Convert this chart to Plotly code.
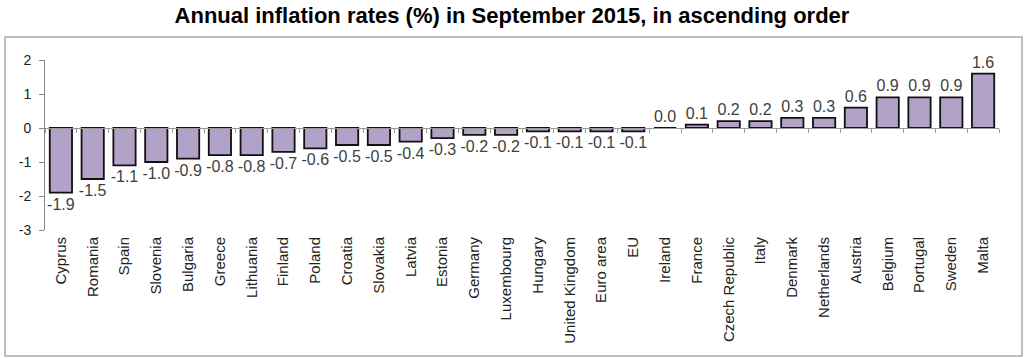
import plotly.graph_objects as go

countries = ["Cyprus", "Romania", "Spain", "Slovenia", "Bulgaria", "Greece", "Lithuania",
             "Finland", "Poland", "Croatia", "Slovakia", "Latvia", "Estonia", "Germany",
             "Luxembourg", "Hungary", "United Kingdom", "Euro area", "EU", "Ireland",
             "France", "Czech Republic", "Italy", "Denmark", "Netherlands", "Austria",
             "Belgium", "Portugal", "Sweden", "Malta"]
rates = [-1.9, -1.5, -1.1, -1.0, -0.9, -0.8, -0.8, -0.7, -0.6, -0.5, -0.5, -0.4, -0.3, -0.2,
         -0.2, -0.1, -0.1, -0.1, -0.1, 0.0, 0.1, 0.2, 0.2, 0.3, 0.3, 0.6, 0.9, 0.9, 0.9, 1.6]
y_ticks = [2, 1, 0, -1, -2, -3]
y_tick_labels = ["2", "1", "0", "-1", "-2", "-3"]

title = "Annual inflation rates (%) in September 2015, in ascending order"

y_min, y_max = -3, 2

fig = go.Figure()
fig.add_trace(go.Bar(
    x=countries, y=rates,
    marker=dict(color="#B3A2C7", line=dict(color="#111111", width=1.8)),
    text=[f"{v:.1f}" for v in rates],
    textposition="outside",
    constraintext="none",
    textfont=dict(family="Liberation Sans, Arial", size=16, color="#404040"),
    cliponaxis=False,
    xaxis="x", yaxis="y",
))
# empty trace to carry the zero-line category axis
fig.add_trace(go.Bar(x=countries, y=[None]*len(countries), xaxis="x2", yaxis="y",
                     showlegend=False, hoverinfo="skip"))

fig.update_layout(
    width=1024, height=358,
    margin=dict(l=45, r=25, t=60, b=128, autoexpand=False),
    paper_bgcolor="white", plot_bgcolor="white",
    showlegend=False,
    bargap=0.30,
    title=dict(text="<b>" + title + "</b>", x=0.5, xanchor="center", y=0.958, yanchor="middle",
               font=dict(family="Liberation Sans, Arial", size=22, color="black")),
    xaxis=dict(showline=False, ticks="", tickangle=-90, showgrid=False, automargin=False,
               tickfont=dict(family="Liberation Sans, Arial", size=15, color="#222"),
               anchor="y", ticklen=0, ticklabelstandoff=3),
    xaxis2=dict(matches="x", overlaying="x", anchor="free", automargin=False,
                position=(0 - y_min) / (y_max - y_min),
                showline=True, linecolor="#999", linewidth=1,
                ticks="outside", tickson="boundaries", ticklen=4, tickcolor="#999",
                showticklabels=False, showgrid=False),
    yaxis=dict(range=[y_min, y_max], tickvals=y_ticks, ticktext=y_tick_labels,
               showgrid=False, zeroline=False, automargin=False,
               showline=True, linecolor="#888", linewidth=1, ticks="outside", ticklen=5,
               tickcolor="#888", ticklabelstandoff=5,
               tickfont=dict(family="Liberation Sans, Arial", size=14, color="#222")),
    shapes=[dict(type="rect", xref="paper", yref="paper",
                 x0=-0.0419, x1=1.0241, y0=-0.741, y1=1.135,
                 line=dict(color="#aaaaaa", width=1.5), fillcolor="rgba(0,0,0,0)",
                 layer="above")],
)

fig.write_html("out.html", config={"displayModeBar": False},
               post_script="document.body.style.margin='0';")
